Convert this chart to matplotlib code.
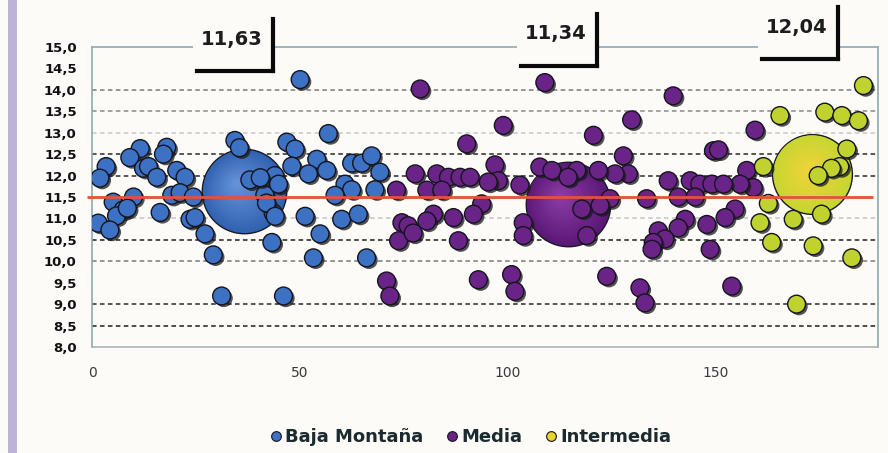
import numpy as np
import matplotlib
matplotlib.use('Agg')
from matplotlib import pyplot as plt
from matplotlib import patheffects as pe
from matplotlib.lines import Line2D
from matplotlib.patches import Rectangle
from matplotlib.transforms import offset_copy

# Individual observations per zone
baja_x = [3.4, 1.9, 11.6, 9.1, 12.4, 13.6, 15.6, 18.0, 17.2, 20.4, 22.4, 10.0, 5.1, 7.5,
          5.9, 8.5, 16.4, 19.2, 21.2, 24.4, 1.5, 4.3, 23.6, 24.8, 27.2, 29.2, 31.2, 34.4,
          35.5, 38.0, 41.6, 44.0, 43.6, 42.0, 40.5, 50.1, 56.9, 46.9, 48.9, 54.1, 48.1,
          52.1, 56.5, 62.5, 64.9, 67.3, 69.3, 60.9, 62.5, 58.5, 68.1, 44.9, 44.1, 51.3,
          60.1, 64.1, 54.9, 43.3, 53.3, 66.1, 46.1]
baja_y = [12.21, 11.94, 12.63, 12.42, 12.17, 12.21, 11.96, 12.66, 12.50, 12.12, 11.96, 11.50,
          11.38, 11.20, 11.06, 11.24, 11.14, 11.54, 11.60, 11.50, 10.89, 10.73, 10.98, 11.02,
          10.64, 10.15, 9.19, 12.82, 12.65, 11.90, 11.55, 12.00, 11.13, 11.36, 11.95, 14.24,
          12.98, 12.78, 12.62, 12.38, 12.22, 12.04, 12.12, 12.29, 12.29, 12.46, 12.08, 11.80,
          11.67, 11.54, 11.67, 11.80, 11.05, 11.05, 10.98, 11.10, 10.64, 10.44, 10.08, 10.08,
          9.19]

media_x = [73.3, 74.6, 73.8, 70.9, 71.7, 79.0, 109.0, 99.0, 90.2, 77.8, 83.0, 85.8, 88.6,
           91.0, 97.0, 97.8, 95.4, 103.0, 80.6, 84.2, 93.8, 91.8, 87.0, 82.2, 80.6, 76.1,
           77.3, 88.2, 103.8, 103.8, 93.0, 101.0, 101.8, 107.8, 110.7, 139.9, 129.9, 120.7,
           127.9, 129.1, 125.9, 121.9, 116.7, 114.6, 124.7, 122.3, 117.9, 119.1, 133.5,
           138.7, 141.1, 144.0, 146.3, 149.2, 145.2, 142.8, 141.1, 148.0, 136.3, 137.9,
           135.1, 134.8, 148.8, 149.6, 123.9, 131.9, 133.1, 159.6, 150.8, 157.6, 159.2,
           156.0, 152.0, 154.8, 152.4, 154.0]
media_y = [11.66, 10.90, 10.48, 9.54, 9.19, 14.02, 14.17, 13.17, 12.74, 12.04, 12.04, 11.96,
           11.96, 11.96, 12.25, 11.88, 11.85, 11.78, 11.66, 11.66, 11.34, 11.10, 11.02, 11.10,
           10.94, 10.83, 10.66, 10.48, 10.90, 10.60, 9.57, 9.69, 9.30, 12.20, 12.12, 13.86,
           13.30, 12.94, 12.46, 12.04, 12.04, 12.12, 12.12, 11.96, 11.46, 11.30, 11.22, 10.60,
           11.46, 11.88, 11.50, 11.88, 11.80, 11.80, 11.50, 10.98, 10.78, 10.86, 10.71, 10.52,
           10.44, 10.28, 10.28, 12.58, 9.65, 9.38, 9.03, 13.06, 12.60, 12.12, 11.72, 11.80,
           11.80, 11.22, 11.02, 9.42]

inter_x = [185.7, 165.6, 176.4, 180.5, 184.5, 181.7, 180.0, 178.0, 174.8, 161.6, 162.8,
           160.8, 168.8, 175.6, 163.6, 173.6, 182.9, 169.6]
inter_y = [14.10, 13.40, 13.48, 13.40, 13.28, 12.62, 12.21, 12.17, 12.00, 12.21, 11.35,
           10.90, 10.98, 11.10, 10.44, 10.36, 10.08, 9.00]

# Zone averages shown as large bubbles
zones = ['Baja Montaña', 'Media', 'Intermedia']
mean_x = [36.6, 114.5, 173.3]
mean_y = [11.63, 11.34, 12.04]
overall = 11.5

W, H = 888, 453
BG = '#fcfbf8'
fig = plt.figure(figsize=(W / 100, H / 100), dpi=100, facecolor=BG)
ax = fig.add_axes([92 / W, 1 - 347 / H, (878 - 92) / W, (347 - 47) / H])
ax.set_facecolor(BG)
ax.set_xlim(0, 189.2)
ax.set_ylim(8, 15)

# side strip
fig.patches.append(Rectangle((8 / W, 0), 9 / W, 1, transform=fig.transFigure,
                             facecolor='#bdb3d9', edgecolor='none', zorder=-1))

# dashed grid
grid = {8.5: '#1e1e1e', 9.0: '#2a2a2a', 10.0: '#7a7a7a', 10.5: '#1e1e1e', 11.0: '#c4c4c4',
        12.0: '#2a2a2a', 12.5: '#2a2a2a', 13.0: '#c8c8c8', 13.5: '#8a8a8a', 14.0: '#7a7a7a'}
for lvl, c in grid.items():
    ax.axhline(lvl, color=c, lw=1.1, ls=(0, (3, 2.2)), zorder=1)

for side in ['left', 'top', 'right']:
    ax.spines[side].set_color('#8fa8b1')
    ax.spines[side].set_linewidth(1.2)
ax.spines['bottom'].set_color('#a9b4b8')
ax.spines['bottom'].set_linewidth(1.2)

yt = np.arange(8, 15.01, 0.5)
ax.set_yticks(yt)
ax.set_yticklabels([f'{v:.1f}'.replace('.', ',') for v in yt], fontsize=9.5,
                   fontweight='bold', color='#111111')
ax.set_xticks([0, 50, 100, 150])
ax.set_xticklabels(['0', '50', '100', '150'], fontsize=10, color='#3a3a3a')
ax.tick_params(axis='y', length=0, pad=11)
ax.tick_params(axis='x', length=0, pad=14)


def bubble(x, y, s, inner, outer, off=6, n=24):
    ci = np.array(matplotlib.colors.to_rgb(inner))
    co = np.array(matplotlib.colors.to_rgb(outer))
    for k in range(n):
        f = 1 - k / n
        col = co * f + ci * (1 - f)
        tr = offset_copy(ax.transData, fig=fig, x=-(1 - f) * off, y=(1 - f) * off,
                         units='points')
        ax.scatter([x], [y], s=s * f ** 2, color=col, transform=tr, zorder=2,
                   edgecolors='#1a1a26' if k == 0 else 'none', linewidths=1.0)


bubble(mean_x[0], mean_y[0], 3700, '#6894da', '#3062b0')
bubble(mean_x[1], mean_y[1], 3700, '#8f3ea9', '#5a1876')
bubble(mean_x[2], mean_y[2], 3300, '#f2d23a', '#c6d631', off=3)

shadow = [pe.withSimplePatchShadow(offset=(1.6, -1.6), shadow_rgbFace='#1a1a1a', alpha=0.75)]
colors = ['#3c71c3', '#6a2386', '#bfd22e']
for xs, ys, c in zip([baja_x, media_x, inter_x], [baja_y, media_y, inter_y], colors):
    ax.scatter(xs, ys, s=165, color=c, edgecolors='#15151f', linewidths=1.0, zorder=3,
               path_effects=shadow)

# overall reference line
ax.hlines(overall, -1.2, 188, color='#e4513c', lw=2.0, zorder=4, clip_on=False)


def callout(text, right, bottom):
    left, top = right - 80, bottom - 52
    fig.patches.append(Rectangle((left / W, 1 - bottom / H), (right - left) / W,
                                 (bottom - top) / H, transform=fig.transFigure,
                                 facecolor=BG, edgecolor='none', zorder=5))
    fig.add_artist(Line2D([right / W, right / W], [1 - top / H, 1 - bottom / H], color='#0a0a0a',
                          lw=3, transform=fig.transFigure, zorder=6))
    fig.add_artist(Line2D([(left + 4) / W, right / W], [1 - bottom / H, 1 - bottom / H],
                          color='#0a0a0a', lw=3, transform=fig.transFigure, zorder=6,
                          solid_capstyle='projecting'))
    fig.text((right - 41) / W, 1 - (bottom - 32) / H, text, ha='center', va='center',
             fontsize=14, fontweight='bold', color='#1c1c1c', zorder=7)


for m, (r, b) in zip(mean_y, [(273, 71), (597, 66), (838, 59)]):
    callout(f'{m:.2f}'.replace('.', ','), r, b)

handles = [Line2D([], [], ls='', marker='o', ms=7, mfc=c, mec='#15151f', mew=0.8)
           for c in ['#3c71c3', '#6a2386', '#e8d52a']]
fig.legend(handles, zones, loc='center', bbox_to_anchor=(470 / W, 1 - 437 / H), ncol=3,
           frameon=False, handletextpad=0.1, columnspacing=1.2, handlelength=0.8,
           prop={'size': 13, 'weight': 'bold'}, labelcolor='#1b2a2e')

fig.savefig('out.png', dpi=100, facecolor=BG)
